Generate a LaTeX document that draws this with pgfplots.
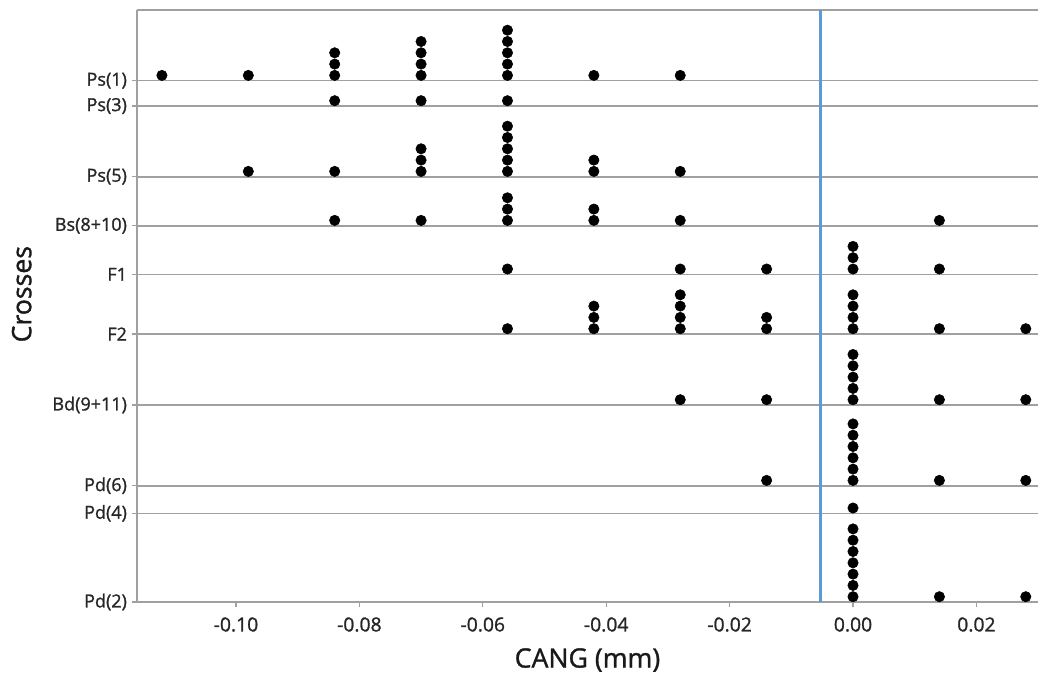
\documentclass[border=0pt]{standalone}
\usepackage{fontspec}
\setmainfont{Open Sans}
\newfontfamily\semib{Open Sans}[FakeBold=1.2]
\usepackage{pgfplots}
\usepackage{pgfplotstable}
\pgfplotsset{compat=1.18}
\definecolor{gridgray}{RGB}{160,160,160}
\definecolor{refblue}{RGB}{91,155,213}

% x = CANG value, base = row position of the cross, k = stack index of the dot
\pgfplotstableread{
x base k
-0.112 521.3 0
-0.098 521.3 0
-0.084 521.3 0
-0.084 521.3 1
-0.084 521.3 2
-0.070 521.3 0
-0.070 521.3 1
-0.070 521.3 2
-0.070 521.3 3
-0.056 521.3 0
-0.056 521.3 1
-0.056 521.3 2
-0.056 521.3 3
-0.056 521.3 4
-0.042 521.3 0
-0.028 521.3 0
-0.084 496 0
-0.070 496 0
-0.056 496 0
-0.098 425.3 0
-0.084 425.3 0
-0.070 425.3 0
-0.070 425.3 1
-0.070 425.3 2
-0.056 425.3 0
-0.056 425.3 1
-0.056 425.3 2
-0.056 425.3 3
-0.056 425.3 4
-0.042 425.3 0
-0.042 425.3 1
-0.028 425.3 0
-0.084 376.3 0
-0.070 376.3 0
-0.056 376.3 0
-0.056 376.3 1
-0.056 376.3 2
-0.042 376.3 0
-0.042 376.3 1
-0.028 376.3 0
0.014 376.3 0
-0.056 327.7 0
-0.028 327.7 0
-0.014 327.7 0
0.000 327.7 0
0.000 327.7 1
0.000 327.7 2
0.014 327.7 0
-0.056 268 0
-0.042 268 0
-0.042 268 1
-0.042 268 2
-0.028 268 0
-0.028 268 1
-0.028 268 2
-0.028 268 3
-0.014 268 0
-0.014 268 1
0.000 268 0
0.000 268 1
0.000 268 2
0.000 268 3
0.014 268 0
0.028 268 0
-0.028 197 0
-0.014 197 0
0.000 197 0
0.000 197 1
0.000 197 2
0.000 197 3
0.000 197 4
0.014 197 0
0.028 197 0
-0.014 116.3 0
0.000 116.3 0
0.000 116.3 1
0.000 116.3 2
0.000 116.3 3
0.000 116.3 4
0.000 116.3 5
0.014 116.3 0
0.028 116.3 0
0.000 88.7 0
0.000 0 0
0.000 0 1
0.000 0 2
0.000 0 3
0.000 0 4
0.000 0 5
0.000 0 6
0.014 0 0
0.028 0 0
}\dots

\begin{document}
\begin{tikzpicture}
\useasboundingbox (-102.75pt,-55.5pt) rectangle (675.75pt,451.5pt);
\begin{axis}[
  at={(0,0)}, anchor=south west,
  scale only axis, width=675.75pt, height=444pt,
  xmin=-0.11604, xmax=0.02998, ymin=0, ymax=592,
  axis x line*=bottom, axis y line*=left,
  axis line style={gridgray, line width=1.2pt},
  xtick={-0.10,-0.08,-0.06,-0.04,-0.02,0,0.02},
  xticklabels={-0.10,-0.08,-0.06,-0.04,-0.02,0.00,0.02},
  ytick={0,88.7,116.3,197,268,327.7,376.3,425.3,496,521.3},
  yticklabels={Pd(2),Pd(4),Pd(6),Bd(9+11),F2,F1,Bs(8+10),Ps(5),Ps(3),Ps(1)},
  ymajorgrids, grid style={gridgray, line width=1.2pt},
  tick align=outside, major tick length=4pt,
  tick style={gridgray, line width=0.8pt},
  ticklabel style={font=\semib\fontsize{13.5}{16}\selectfont, text=black!85},
  xticklabel style={font=\semib\fontsize{14.5}{17}\selectfont, yshift=-4pt},
  xlabel={CANG (mm)}, ylabel={Crosses},
  label style={font=\semib\fontsize{20}{24}\selectfont, text=black!90},
  xlabel style={at={(axis description cs:0.5,0)}, anchor=center, yshift=-43.5pt},
  ylabel style={at={(axis description cs:-0.128,0.52)}, anchor=center},
  clip=false,
]
\draw[gridgray, line width=1.2pt] (rel axis cs:0,1) -- (rel axis cs:1,1);
\addplot[refblue, line width=2.2pt] coordinates {(-0.0053,0) (-0.0053,592)};
\addplot[only marks, mark=*, mark size=3.9pt, black]
  table[x=x, y expr=\thisrow{base}+5.3+11.3*\thisrow{k}] {\dots};
\end{axis}
\end{tikzpicture}
\end{document}
